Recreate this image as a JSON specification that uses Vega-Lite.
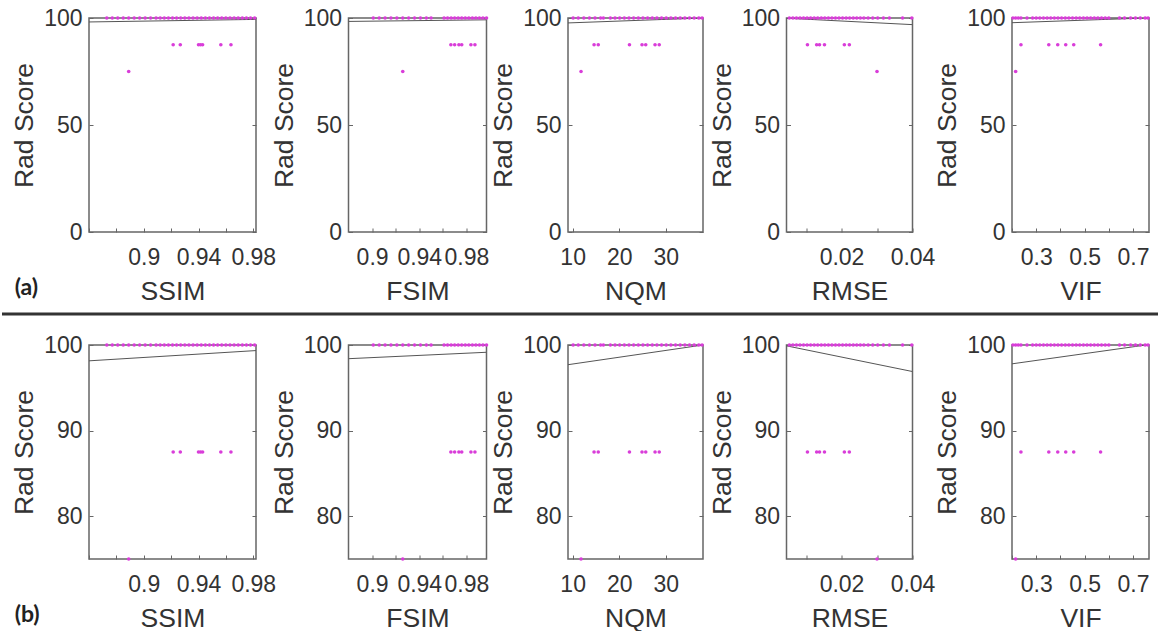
{
"$schema": "https://vega.github.io/schema/vega-lite/v6.json",
"padding": {"left": 0, "top": 6, "right": 0, "bottom": 0},
"background": "white",
"datasets": {
"fit": [
{"m":"SSIM","v":0.86,"s":98.15},{"m":"SSIM","v":0.982,"s":99.35},
{"m":"FSIM","v":0.88,"s":98.4},{"m":"FSIM","v":0.997,"s":99.15},
{"m":"NQM","v":9,"s":97.7},{"m":"NQM","v":38,"s":100.0},
{"m":"RMSE","v":0.0045,"s":99.9},{"m":"RMSE","v":0.04,"s":96.9},
{"m":"VIF","v":0.2,"s":97.8},{"m":"VIF","v":0.766,"s":100.05}
],
"pts": [
{"m":"SSIM","v":0.873,"s":100},{"m":"SSIM","v":0.877,"s":100},{"m":"SSIM","v":0.881,"s":100},{"m":"SSIM","v":0.885,"s":100},{"m":"SSIM","v":0.889,"s":100},{"m":"SSIM","v":0.893,"s":100},{"m":"SSIM","v":0.897,"s":100},{"m":"SSIM","v":0.901,"s":100},{"m":"SSIM","v":0.905,"s":100},{"m":"SSIM","v":0.909,"s":100},{"m":"SSIM","v":0.912,"s":100},{"m":"SSIM","v":0.915,"s":100},{"m":"SSIM","v":0.918,"s":100},{"m":"SSIM","v":0.921,"s":100},{"m":"SSIM","v":0.924,"s":100},{"m":"SSIM","v":0.927,"s":100},{"m":"SSIM","v":0.930,"s":100},{"m":"SSIM","v":0.933,"s":100},{"m":"SSIM","v":0.936,"s":100},{"m":"SSIM","v":0.939,"s":100},{"m":"SSIM","v":0.942,"s":100},{"m":"SSIM","v":0.945,"s":100},{"m":"SSIM","v":0.948,"s":100},{"m":"SSIM","v":0.951,"s":100},{"m":"SSIM","v":0.954,"s":100},{"m":"SSIM","v":0.957,"s":100},{"m":"SSIM","v":0.960,"s":100},{"m":"SSIM","v":0.963,"s":100},{"m":"SSIM","v":0.966,"s":100},{"m":"SSIM","v":0.969,"s":100},{"m":"SSIM","v":0.972,"s":100},{"m":"SSIM","v":0.975,"s":100},{"m":"SSIM","v":0.978,"s":100},{"m":"SSIM","v":0.981,"s":100},
{"m":"SSIM","v":0.9215,"s":87.5},{"m":"SSIM","v":0.9267,"s":87.5},{"m":"SSIM","v":0.940,"s":87.5},{"m":"SSIM","v":0.9415,"s":87.5},{"m":"SSIM","v":0.943,"s":87.5},{"m":"SSIM","v":0.9563,"s":87.5},{"m":"SSIM","v":0.9637,"s":87.5},
{"m":"SSIM","v":0.889,"s":75},
{"m":"FSIM","v":0.901,"s":100},{"m":"FSIM","v":0.906,"s":100},{"m":"FSIM","v":0.911,"s":100},{"m":"FSIM","v":0.916,"s":100},{"m":"FSIM","v":0.921,"s":100},{"m":"FSIM","v":0.926,"s":100},{"m":"FSIM","v":0.931,"s":100},{"m":"FSIM","v":0.936,"s":100},{"m":"FSIM","v":0.941,"s":100},{"m":"FSIM","v":0.946,"s":100},{"m":"FSIM","v":0.950,"s":100},{"m":"FSIM","v":0.961,"s":100},{"m":"FSIM","v":0.964,"s":100},{"m":"FSIM","v":0.967,"s":100},{"m":"FSIM","v":0.970,"s":100},{"m":"FSIM","v":0.973,"s":100},{"m":"FSIM","v":0.976,"s":100},{"m":"FSIM","v":0.979,"s":100},{"m":"FSIM","v":0.982,"s":100},{"m":"FSIM","v":0.985,"s":100},{"m":"FSIM","v":0.988,"s":100},{"m":"FSIM","v":0.991,"s":100},{"m":"FSIM","v":0.994,"s":100},{"m":"FSIM","v":0.997,"s":100},
{"m":"FSIM","v":0.9668,"s":87.5},{"m":"FSIM","v":0.970,"s":87.5},{"m":"FSIM","v":0.9736,"s":87.5},{"m":"FSIM","v":0.976,"s":87.5},{"m":"FSIM","v":0.9838,"s":87.5},{"m":"FSIM","v":0.9872,"s":87.5},
{"m":"FSIM","v":0.926,"s":75},
{"m":"NQM","v":10.1,"s":100},{"m":"NQM","v":11.2,"s":100},{"m":"NQM","v":12.4,"s":100},{"m":"NQM","v":13.6,"s":100},{"m":"NQM","v":14.8,"s":100},{"m":"NQM","v":16.0,"s":100},{"m":"NQM","v":16.6,"s":100},{"m":"NQM","v":18.1,"s":100},{"m":"NQM","v":19.1,"s":100},{"m":"NQM","v":20.1,"s":100},{"m":"NQM","v":21.1,"s":100},{"m":"NQM","v":22.1,"s":100},{"m":"NQM","v":23.1,"s":100},{"m":"NQM","v":24.1,"s":100},{"m":"NQM","v":25.1,"s":100},{"m":"NQM","v":26.1,"s":100},{"m":"NQM","v":27.1,"s":100},{"m":"NQM","v":28.1,"s":100},{"m":"NQM","v":29.1,"s":100},{"m":"NQM","v":30.1,"s":100},{"m":"NQM","v":31.1,"s":100},{"m":"NQM","v":32.1,"s":100},{"m":"NQM","v":33.1,"s":100},{"m":"NQM","v":34.1,"s":100},{"m":"NQM","v":35.1,"s":100},{"m":"NQM","v":36.1,"s":100},{"m":"NQM","v":37.1,"s":100},{"m":"NQM","v":37.8,"s":100},
{"m":"NQM","v":14.6,"s":87.5},{"m":"NQM","v":15.5,"s":87.5},{"m":"NQM","v":22.2,"s":87.5},{"m":"NQM","v":24.9,"s":87.5},{"m":"NQM","v":25.7,"s":87.5},{"m":"NQM","v":27.7,"s":87.5},{"m":"NQM","v":28.6,"s":87.5},
{"m":"NQM","v":11.8,"s":75},
{"m":"RMSE","v":0.0053,"s":100},{"m":"RMSE","v":0.0063,"s":100},{"m":"RMSE","v":0.0073,"s":100},{"m":"RMSE","v":0.0083,"s":100},{"m":"RMSE","v":0.0093,"s":100},{"m":"RMSE","v":0.0103,"s":100},{"m":"RMSE","v":0.0113,"s":100},{"m":"RMSE","v":0.0123,"s":100},{"m":"RMSE","v":0.0133,"s":100},{"m":"RMSE","v":0.0143,"s":100},{"m":"RMSE","v":0.0153,"s":100},{"m":"RMSE","v":0.0163,"s":100},{"m":"RMSE","v":0.0173,"s":100},{"m":"RMSE","v":0.0183,"s":100},{"m":"RMSE","v":0.0193,"s":100},{"m":"RMSE","v":0.0203,"s":100},{"m":"RMSE","v":0.0213,"s":100},{"m":"RMSE","v":0.0223,"s":100},{"m":"RMSE","v":0.0233,"s":100},{"m":"RMSE","v":0.0243,"s":100},{"m":"RMSE","v":0.0253,"s":100},{"m":"RMSE","v":0.0263,"s":100},{"m":"RMSE","v":0.0275,"s":100},{"m":"RMSE","v":0.0288,"s":100},{"m":"RMSE","v":0.0302,"s":100},{"m":"RMSE","v":0.0318,"s":100},{"m":"RMSE","v":0.0335,"s":100},{"m":"RMSE","v":0.0372,"s":100},{"m":"RMSE","v":0.0398,"s":100},
{"m":"RMSE","v":0.0104,"s":87.5},{"m":"RMSE","v":0.0130,"s":87.5},{"m":"RMSE","v":0.0138,"s":87.5},{"m":"RMSE","v":0.0152,"s":87.5},{"m":"RMSE","v":0.0208,"s":87.5},{"m":"RMSE","v":0.0222,"s":87.5},
{"m":"RMSE","v":0.0300,"s":75},
{"m":"VIF","v":0.204,"s":100},{"m":"VIF","v":0.215,"s":100},{"m":"VIF","v":0.226,"s":100},{"m":"VIF","v":0.237,"s":100},{"m":"VIF","v":0.262,"s":100},{"m":"VIF","v":0.285,"s":100},{"m":"VIF","v":0.300,"s":100},{"m":"VIF","v":0.315,"s":100},{"m":"VIF","v":0.330,"s":100},{"m":"VIF","v":0.345,"s":100},{"m":"VIF","v":0.360,"s":100},{"m":"VIF","v":0.375,"s":100},{"m":"VIF","v":0.390,"s":100},{"m":"VIF","v":0.405,"s":100},{"m":"VIF","v":0.420,"s":100},{"m":"VIF","v":0.435,"s":100},{"m":"VIF","v":0.450,"s":100},{"m":"VIF","v":0.465,"s":100},{"m":"VIF","v":0.480,"s":100},{"m":"VIF","v":0.495,"s":100},{"m":"VIF","v":0.510,"s":100},{"m":"VIF","v":0.525,"s":100},{"m":"VIF","v":0.540,"s":100},{"m":"VIF","v":0.555,"s":100},{"m":"VIF","v":0.570,"s":100},{"m":"VIF","v":0.585,"s":100},{"m":"VIF","v":0.600,"s":100},{"m":"VIF","v":0.644,"s":100},{"m":"VIF","v":0.665,"s":100},{"m":"VIF","v":0.690,"s":100},{"m":"VIF","v":0.710,"s":100},{"m":"VIF","v":0.730,"s":100},{"m":"VIF","v":0.750,"s":100},{"m":"VIF","v":0.762,"s":100},
{"m":"VIF","v":0.237,"s":87.5},{"m":"VIF","v":0.352,"s":87.5},{"m":"VIF","v":0.389,"s":87.5},{"m":"VIF","v":0.422,"s":87.5},{"m":"VIF","v":0.455,"s":87.5},{"m":"VIF","v":0.566,"s":87.5},
{"m":"VIF","v":0.215,"s":75}
]
},
"vconcat": [
{"hconcat": [
 {"hconcat": [
  {"width":167,"height":214,
   "title":{"text":"(a)","orient":"bottom","anchor":"start","offset":-26,"dx":3,"dy":-2},
   "encoding":{"x":{"field":"v","type":"quantitative","title":"SSIM","scale":{"domain":[0.86,0.982],"nice":false,"zero":false},"axis":{"values":[0.86,0.88,0.9,0.92,0.94,0.96,0.98],"format":"~g","labelExpr":"indexof([0.9,0.94,0.98], datum.value) >= 0 ? datum.label : ''"}}},
   "layer":[
    {"data":{"name":"fit"},"transform":[{"filter":"datum.m === 'SSIM'"}],"mark":{"type":"line","color":"#555555","strokeWidth":1,"clip":true},"encoding":{"y":{"field":"s","type":"quantitative","scale":{"domain":[0,100],"nice":false,"zero":false},"axis":{"orient":"right","labels":false,"title":null,"values":[0,50,100]}}}},
    {"data":{"name":"pts"},"transform":[{"filter":"datum.m === 'SSIM'"}],"mark":{"type":"circle","size":13,"color":"#d93dd9","opacity":1},"encoding":{"y":{"field":"s","type":"quantitative","title":"Rad Score","scale":{"domain":[0,100],"nice":false,"zero":false},"axis":{"values":[0,50,100]}}}}
   ],
   "resolve":{"axis":{"y":"independent"}}},
  {"hconcat": [
   {"width":138,"height":214,
    "encoding":{"x":{"field":"v","type":"quantitative","title":"FSIM","scale":{"domain":[0.88,0.997],"nice":false,"zero":false},"axis":{"values":[0.9,0.92,0.94,0.96,0.98],"format":"~g","labelExpr":"indexof([0.9,0.94,0.98], datum.value) >= 0 ? datum.label : ''"}}},
    "layer":[
     {"data":{"name":"fit"},"transform":[{"filter":"datum.m === 'FSIM'"}],"mark":{"type":"line","color":"#555555","strokeWidth":1,"clip":true},"encoding":{"y":{"field":"s","type":"quantitative","scale":{"domain":[0,100],"nice":false,"zero":false},"axis":{"orient":"right","labels":false,"title":null,"values":[0,50,100]}}}},
     {"data":{"name":"pts"},"transform":[{"filter":"datum.m === 'FSIM'"}],"mark":{"type":"circle","size":13,"color":"#d93dd9","opacity":1},"encoding":{"y":{"field":"s","type":"quantitative","title":"Rad Score","scale":{"domain":[0,100],"nice":false,"zero":false},"axis":{"values":[0,50,100]}}}}
    ],
    "resolve":{"axis":{"y":"independent"}}},
   {"width":135,"height":214,
    "encoding":{"x":{"field":"v","type":"quantitative","title":"NQM","scale":{"domain":[9,38],"nice":false,"zero":false},"axis":{"values":[10,20,30],"format":"d"}}},
    "layer":[
     {"data":{"name":"fit"},"transform":[{"filter":"datum.m === 'NQM'"}],"mark":{"type":"line","color":"#555555","strokeWidth":1,"clip":true},"encoding":{"y":{"field":"s","type":"quantitative","scale":{"domain":[0,100],"nice":false,"zero":false},"axis":{"orient":"right","labels":false,"title":null,"values":[0,50,100]}}}},
     {"data":{"name":"pts"},"transform":[{"filter":"datum.m === 'NQM'"}],"mark":{"type":"circle","size":13,"color":"#d93dd9","opacity":1},"encoding":{"y":{"field":"s","type":"quantitative","title":"Rad Score","scale":{"domain":[0,100],"nice":false,"zero":false},"axis":{"values":[0,50,100]}}}}
    ],
    "resolve":{"axis":{"y":"independent"}}}
  ], "spacing": -1.5}
 ], "spacing": -7.5},
 {"hconcat": [
  {"width":126,"height":214,
   "encoding":{"x":{"field":"v","type":"quantitative","title":"RMSE","scale":{"domain":[0.0045,0.04],"nice":false,"zero":false},"axis":{"values":[0.01,0.02,0.03,0.04],"format":"~g","labelExpr":"indexof([0.02,0.04], datum.value) >= 0 ? datum.label : ''"}}},
   "layer":[
    {"data":{"name":"fit"},"transform":[{"filter":"datum.m === 'RMSE'"}],"mark":{"type":"line","color":"#555555","strokeWidth":1,"clip":true},"encoding":{"y":{"field":"s","type":"quantitative","scale":{"domain":[0,100],"nice":false,"zero":false},"axis":{"orient":"right","labels":false,"title":null,"values":[0,50,100]}}}},
    {"data":{"name":"pts"},"transform":[{"filter":"datum.m === 'RMSE'"}],"mark":{"type":"circle","size":13,"color":"#d93dd9","opacity":1},"encoding":{"y":{"field":"s","type":"quantitative","title":"Rad Score","scale":{"domain":[0,100],"nice":false,"zero":false},"axis":{"values":[0,50,100]}}}}
   ],
   "resolve":{"axis":{"y":"independent"}}},
  {"width":137,"height":214,
   "encoding":{"x":{"field":"v","type":"quantitative","title":"VIF","scale":{"domain":[0.2,0.766],"nice":false,"zero":false},"axis":{"values":[0.2,0.3,0.4,0.5,0.6,0.7],"format":"~g","labelExpr":"indexof([0.3,0.5,0.7], datum.value) >= 0 ? datum.label : ''"}}},
   "layer":[
    {"data":{"name":"fit"},"transform":[{"filter":"datum.m === 'VIF'"}],"mark":{"type":"line","color":"#555555","strokeWidth":1,"clip":true},"encoding":{"y":{"field":"s","type":"quantitative","scale":{"domain":[0,100],"nice":false,"zero":false},"axis":{"orient":"right","labels":false,"title":null,"values":[0,50,100]}}}},
    {"data":{"name":"pts"},"transform":[{"filter":"datum.m === 'VIF'"}],"mark":{"type":"circle","size":13,"color":"#d93dd9","opacity":1},"encoding":{"y":{"field":"s","type":"quantitative","title":"Rad Score","scale":{"domain":[0,100],"nice":false,"zero":false},"axis":{"values":[0,50,100]}}}}
   ],
   "resolve":{"axis":{"y":"independent"}}}
 ], "spacing": -3.5}
], "spacing": 2.5},
{"width":1071,"height":12.5,"view":{"stroke":null},
 "data":{"values":[{"a":0,"b":1158,"y":1}]},
 "mark":{"type":"rule","color":"#333333","strokeWidth":3,"clip":false},
 "encoding":{
  "x":{"field":"a","type":"quantitative","scale":{"domain":[87,1158],"nice":false,"zero":false},"axis":null},
  "x2":{"field":"b"},
  "y":{"field":"y","type":"quantitative","scale":{"domain":[0,1]},"axis":null}}},
{"hconcat": [
 {"hconcat": [
  {"width":167,"height":214,
   "title":{"text":"(b)","orient":"bottom","anchor":"start","offset":-26,"dx":3,"dy":-2},
   "encoding":{"x":{"field":"v","type":"quantitative","title":"SSIM","scale":{"domain":[0.86,0.982],"nice":false,"zero":false},"axis":{"values":[0.86,0.88,0.9,0.92,0.94,0.96,0.98],"format":"~g","labelExpr":"indexof([0.9,0.94,0.98], datum.value) >= 0 ? datum.label : ''"}}},
   "layer":[
    {"data":{"name":"fit"},"transform":[{"filter":"datum.m === 'SSIM'"}],"mark":{"type":"line","color":"#555555","strokeWidth":1,"clip":true},"encoding":{"y":{"field":"s","type":"quantitative","scale":{"domain":[75,100],"nice":false,"zero":false},"axis":{"orient":"right","labels":false,"title":null,"values":[80,90,100]}}}},
    {"data":{"name":"pts"},"transform":[{"filter":"datum.m === 'SSIM'"}],"mark":{"type":"circle","size":13,"color":"#d93dd9","opacity":1},"encoding":{"y":{"field":"s","type":"quantitative","title":"Rad Score","scale":{"domain":[75,100],"nice":false,"zero":false},"axis":{"values":[80,90,100]}}}}
   ],
   "resolve":{"axis":{"y":"independent"}}},
  {"hconcat": [
   {"width":138,"height":214,
    "encoding":{"x":{"field":"v","type":"quantitative","title":"FSIM","scale":{"domain":[0.88,0.997],"nice":false,"zero":false},"axis":{"values":[0.9,0.92,0.94,0.96,0.98],"format":"~g","labelExpr":"indexof([0.9,0.94,0.98], datum.value) >= 0 ? datum.label : ''"}}},
    "layer":[
     {"data":{"name":"fit"},"transform":[{"filter":"datum.m === 'FSIM'"}],"mark":{"type":"line","color":"#555555","strokeWidth":1,"clip":true},"encoding":{"y":{"field":"s","type":"quantitative","scale":{"domain":[75,100],"nice":false,"zero":false},"axis":{"orient":"right","labels":false,"title":null,"values":[80,90,100]}}}},
     {"data":{"name":"pts"},"transform":[{"filter":"datum.m === 'FSIM'"}],"mark":{"type":"circle","size":13,"color":"#d93dd9","opacity":1},"encoding":{"y":{"field":"s","type":"quantitative","title":"Rad Score","scale":{"domain":[75,100],"nice":false,"zero":false},"axis":{"values":[80,90,100]}}}}
    ],
    "resolve":{"axis":{"y":"independent"}}},
   {"width":135,"height":214,
    "encoding":{"x":{"field":"v","type":"quantitative","title":"NQM","scale":{"domain":[9,38],"nice":false,"zero":false},"axis":{"values":[10,20,30],"format":"d"}}},
    "layer":[
     {"data":{"name":"fit"},"transform":[{"filter":"datum.m === 'NQM'"}],"mark":{"type":"line","color":"#555555","strokeWidth":1,"clip":true},"encoding":{"y":{"field":"s","type":"quantitative","scale":{"domain":[75,100],"nice":false,"zero":false},"axis":{"orient":"right","labels":false,"title":null,"values":[80,90,100]}}}},
     {"data":{"name":"pts"},"transform":[{"filter":"datum.m === 'NQM'"}],"mark":{"type":"circle","size":13,"color":"#d93dd9","opacity":1},"encoding":{"y":{"field":"s","type":"quantitative","title":"Rad Score","scale":{"domain":[75,100],"nice":false,"zero":false},"axis":{"values":[80,90,100]}}}}
    ],
    "resolve":{"axis":{"y":"independent"}}}
  ], "spacing": -1.5}
 ], "spacing": -7.5},
 {"hconcat": [
  {"width":126,"height":214,
   "encoding":{"x":{"field":"v","type":"quantitative","title":"RMSE","scale":{"domain":[0.0045,0.04],"nice":false,"zero":false},"axis":{"values":[0.01,0.02,0.03,0.04],"format":"~g","labelExpr":"indexof([0.02,0.04], datum.value) >= 0 ? datum.label : ''"}}},
   "layer":[
    {"data":{"name":"fit"},"transform":[{"filter":"datum.m === 'RMSE'"}],"mark":{"type":"line","color":"#555555","strokeWidth":1,"clip":true},"encoding":{"y":{"field":"s","type":"quantitative","scale":{"domain":[75,100],"nice":false,"zero":false},"axis":{"orient":"right","labels":false,"title":null,"values":[80,90,100]}}}},
    {"data":{"name":"pts"},"transform":[{"filter":"datum.m === 'RMSE'"}],"mark":{"type":"circle","size":13,"color":"#d93dd9","opacity":1},"encoding":{"y":{"field":"s","type":"quantitative","title":"Rad Score","scale":{"domain":[75,100],"nice":false,"zero":false},"axis":{"values":[80,90,100]}}}}
   ],
   "resolve":{"axis":{"y":"independent"}}},
  {"width":137,"height":214,
   "encoding":{"x":{"field":"v","type":"quantitative","title":"VIF","scale":{"domain":[0.2,0.766],"nice":false,"zero":false},"axis":{"values":[0.2,0.3,0.4,0.5,0.6,0.7],"format":"~g","labelExpr":"indexof([0.3,0.5,0.7], datum.value) >= 0 ? datum.label : ''"}}},
   "layer":[
    {"data":{"name":"fit"},"transform":[{"filter":"datum.m === 'VIF'"}],"mark":{"type":"line","color":"#555555","strokeWidth":1,"clip":true},"encoding":{"y":{"field":"s","type":"quantitative","scale":{"domain":[75,100],"nice":false,"zero":false},"axis":{"orient":"right","labels":false,"title":null,"values":[80,90,100]}}}},
    {"data":{"name":"pts"},"transform":[{"filter":"datum.m === 'VIF'"}],"mark":{"type":"circle","size":13,"color":"#d93dd9","opacity":1},"encoding":{"y":{"field":"s","type":"quantitative","title":"Rad Score","scale":{"domain":[75,100],"nice":false,"zero":false},"axis":{"values":[80,90,100]}}}}
   ],
   "resolve":{"axis":{"y":"independent"}}}
 ], "spacing": -3.5}
], "spacing": 2.5}
],
"spacing": 6,
"config": {
 "font": "Liberation Sans",
 "view": {"stroke": "#666666", "strokeWidth": 1.5},
 "axis": {"labelFont": "Liberation Sans", "labelFontSize": 23, "labelColor": "#333333", "titleFont": "Liberation Sans", "titleFontSize": 26.5, "titleFontWeight": "normal", "titleColor": "#333333", "domain": false, "grid": false, "tickSize": -4, "tickColor": "#666666", "tickWidth": 1, "labelOverlap": false, "labelFlush": false},
 "axisX": {"labelPadding": 18, "titlePadding": 9},
 "axisY": {"labelPadding": 11, "titlePadding": 5},
 "title": {"font": "Lato", "fontWeight": "bold", "fontSize": 23, "color": "#222222"}
}
}
